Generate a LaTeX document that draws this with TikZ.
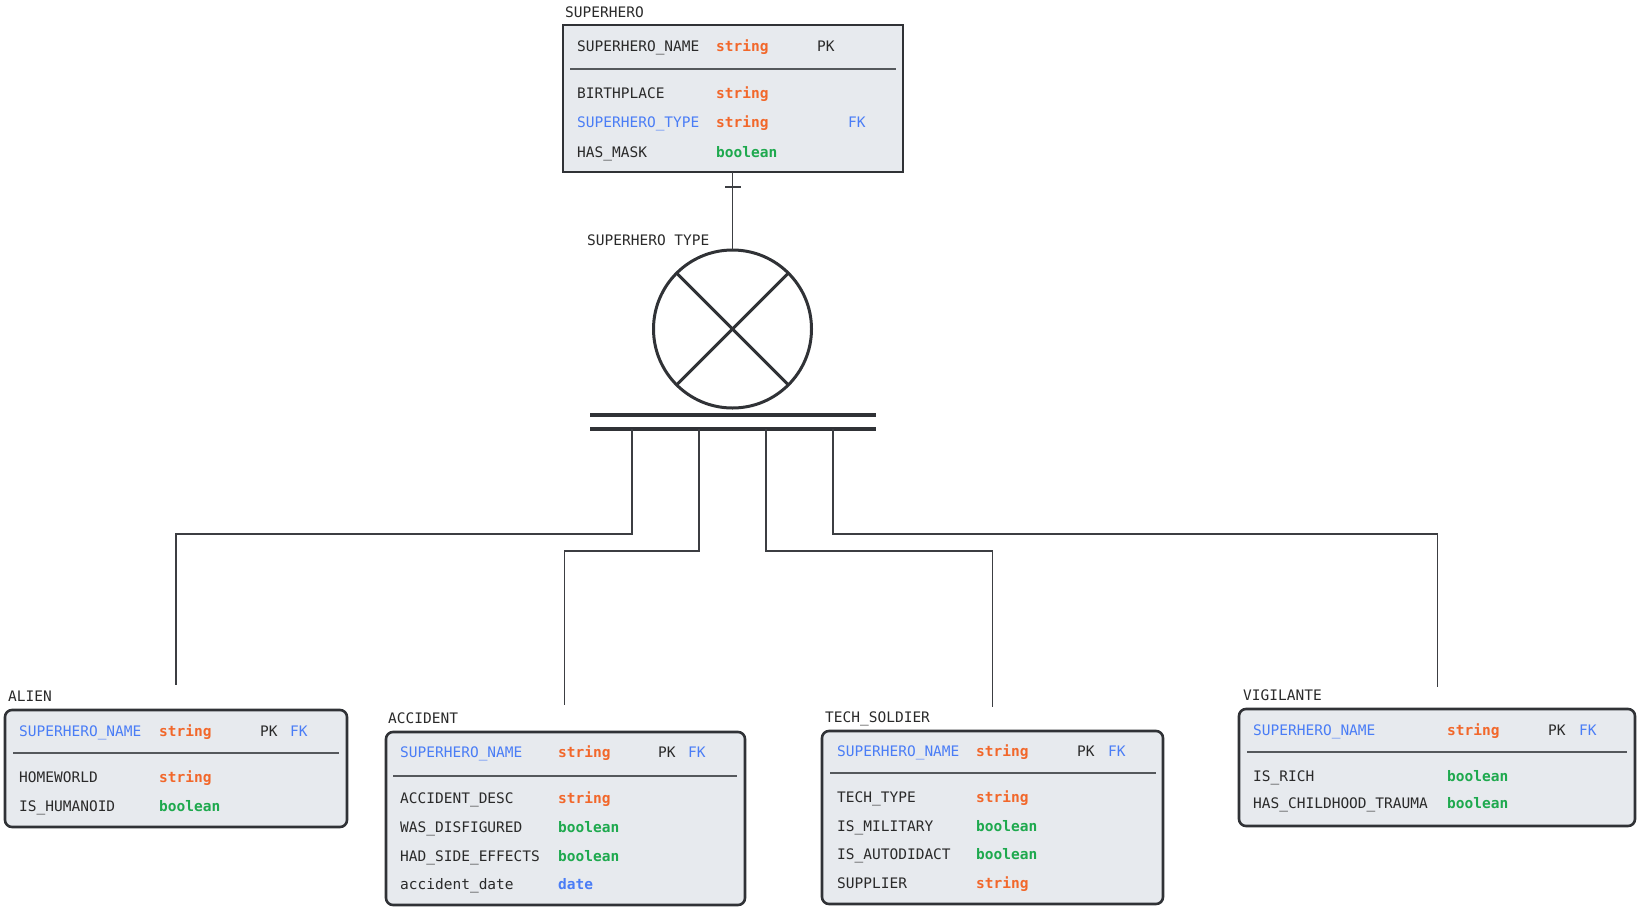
\documentclass[tikz,border=0pt]{standalone}
\usepackage{fontspec}
\setmonofont{DejaVu Sans Mono}
\definecolor{txt}{HTML}{2A2A2A}
\definecolor{ora}{HTML}{F2672A}
\definecolor{blu}{HTML}{4A7DF6}
\definecolor{grn}{HTML}{1EA94E}
\definecolor{boxfill}{HTML}{E7EAEE}
\definecolor{edge}{HTML}{303236}
\definecolor{sepc}{HTML}{55585C}
\definecolor{conc}{HTML}{3C3E42}
\tikzset{
  t/.style={font=\ttfamily\fontsize{14.5}{17}\selectfont, text=txt, inner sep=0pt, anchor=base west},
  o/.style={t, font=\ttfamily\bfseries\fontsize{14.5}{17}\selectfont, text=ora},
  b/.style={t, text=blu},
  bb/.style={t, font=\ttfamily\bfseries\fontsize{14.5}{17}\selectfont, text=blu},
  g/.style={t, font=\ttfamily\bfseries\fontsize{14.5}{17}\selectfont, text=grn},
  entbox/.style={draw=edge, fill=boxfill, line width=2.6pt, rounded corners=7pt, anchor=north west, inner sep=0pt, outer sep=0pt},
  sepl/.style={draw=sepc, line width=2pt},
  conn/.style={draw=conc, line width=1.5pt},
}
\begin{document}
\begin{tikzpicture}[x=1pt,y=-1pt]
\useasboundingbox (0,0) rectangle (1640,913);

% ---------- SUPERHERO ----------
\node[entbox, rounded corners=0pt, minimum width=340, minimum height=147] (super) at (563,25) {};
\node[t] (superL) at (565,17.5) {SUPERHERO};
\draw[sepl] (570,69) -- (896,69);
\node[t] (s1n) at (577,51.5) {SUPERHERO\_NAME};
\node[o] (s1t) at (716,51.5) {string};
\node[t] (s1k) at (817,51.5) {PK};
\node[t] (s2n) at (577,98.5) {BIRTHPLACE};
\node[o] (s2t) at (716,98.5) {string};
\node[b] (s3n) at (577,127.5) {SUPERHERO\_TYPE};
\node[o] (s3t) at (716,127.5) {string};
\node[b] (s3k) at (848,127.5) {FK};
\node[t] (s4n) at (577,157.5) {HAS\_MASK};
\node[g] (s4t) at (716,157.5) {boolean};

% ---------- specialization ----------
\node[t] (specL) at (587,245.5) {SUPERHERO TYPE};
\node[circle, draw=edge, line width=3pt, minimum size=158, inner sep=0pt, outer sep=0pt] (spec) at (732.5,329) {};
\draw[draw=edge, line width=3pt] (spec.north west) -- (spec.south east);
\draw[draw=edge, line width=3pt] (spec.north east) -- (spec.south west);
\draw[conn] (super.south -| spec.north) -- (spec.north);
\coordinate (tickc) at (733,187);
\draw[conn] ([xshift=-8]tickc) -- ([xshift=8]tickc);

\node[fill=edge, minimum width=286, minimum height=3.5, inner sep=0pt, outer sep=0pt] (bar1) at (733,415) {};
\node[fill=edge, minimum width=286, minimum height=3.5, inner sep=0pt, outer sep=0pt] (bar2) at (733,429) {};

\coordinate (d1) at (632,429);
\coordinate (d2) at (699,429);
\coordinate (d3) at (766,429);
\coordinate (d4) at (833,429);
\coordinate (e1) at (176,685);
\coordinate (e2) at (564.5,705);
\coordinate (e3) at (992.5,707);
\coordinate (e4) at (1437.5,687);
\draw[conn] (d1) -- ++(0,105) -| (e1);
\draw[conn] (d2) -- ++(0,122) -| (e2);
\draw[conn] (d3) -- ++(0,122) -| (e3);
\draw[conn] (d4) -- ++(0,105) -| (e4);

% ---------- ALIEN ----------
\node[entbox, minimum width=342, minimum height=117] (alien) at (5,710) {};
\node[t] (alienL) at (8,701.5) {ALIEN};
\draw[sepl] (13,753) -- (339,753);
\node[b] (a1n) at (19,736.5) {SUPERHERO\_NAME};
\node[o] (a1t) at (159,736.5) {string};
\node[t] (a1k) at (260,736.5) {PK};
\node[b] (a1f) at (290,736.5) {FK};
\node[t] (a2n) at (19,782.5) {HOMEWORLD};
\node[o] (a2t) at (159,782.5) {string};
\node[t] (a3n) at (19,811.5) {IS\_HUMANOID};
\node[g] (a3t) at (159,811.5) {boolean};

% ---------- ACCIDENT ----------
\node[entbox, minimum width=359, minimum height=173] (acc) at (386,732) {};
\node[t] (accL) at (388,723.5) {ACCIDENT};
\draw[sepl] (393,776) -- (737,776);
\node[b] (c1n) at (400,757.5) {SUPERHERO\_NAME};
\node[o] (c1t) at (558,757.5) {string};
\node[t] (c1k) at (658,757.5) {PK};
\node[b] (c1f) at (688,757.5) {FK};
\node[t] (c2n) at (400,803.5) {ACCIDENT\_DESC};
\node[o] (c2t) at (558,803.5) {string};
\node[t] (c3n) at (400,832.5) {WAS\_DISFIGURED};
\node[g] (c3t) at (558,832.5) {boolean};
\node[t] (c4n) at (400,861.5) {HAD\_SIDE\_EFFECTS};
\node[g] (c4t) at (558,861.5) {boolean};
\node[t] (c5n) at (400,889.5) {accident\_date};
\node[bb] (c5t) at (558,889.5) {date};

% ---------- TECH_SOLDIER ----------
\node[entbox, minimum width=341, minimum height=173] (tech) at (822,731) {};
\node[t] (techL) at (825,722.5) {TECH\_SOLDIER};
\draw[sepl] (830,773) -- (1156,773);
\node[b] (t1n) at (837,756.5) {SUPERHERO\_NAME};
\node[o] (t1t) at (976,756.5) {string};
\node[t] (t1k) at (1077,756.5) {PK};
\node[b] (t1f) at (1108,756.5) {FK};
\node[t] (t2n) at (837,802.5) {TECH\_TYPE};
\node[o] (t2t) at (976,802.5) {string};
\node[t] (t3n) at (837,831.5) {IS\_MILITARY};
\node[g] (t3t) at (976,831.5) {boolean};
\node[t] (t4n) at (837,859.5) {IS\_AUTODIDACT};
\node[g] (t4t) at (976,859.5) {boolean};
\node[t] (t5n) at (837,888.5) {SUPPLIER};
\node[o] (t5t) at (976,888.5) {string};

% ---------- VIGILANTE ----------
\node[entbox, minimum width=396, minimum height=117] (vig) at (1239,709) {};
\node[t] (vigL) at (1243,700.5) {VIGILANTE};
\draw[sepl] (1247,752) -- (1627,752);
\node[b] (v1n) at (1253,735.5) {SUPERHERO\_NAME};
\node[o] (v1t) at (1447,735.5) {string};
\node[t] (v1k) at (1548,735.5) {PK};
\node[b] (v1f) at (1579,735.5) {FK};
\node[t] (v2n) at (1253,781.5) {IS\_RICH};
\node[g] (v2t) at (1447,781.5) {boolean};
\node[t] (v3n) at (1253,808.5) {HAS\_CHILDHOOD\_TRAUMA};
\node[g] (v3t) at (1447,808.5) {boolean};
\end{tikzpicture}
\end{document}
